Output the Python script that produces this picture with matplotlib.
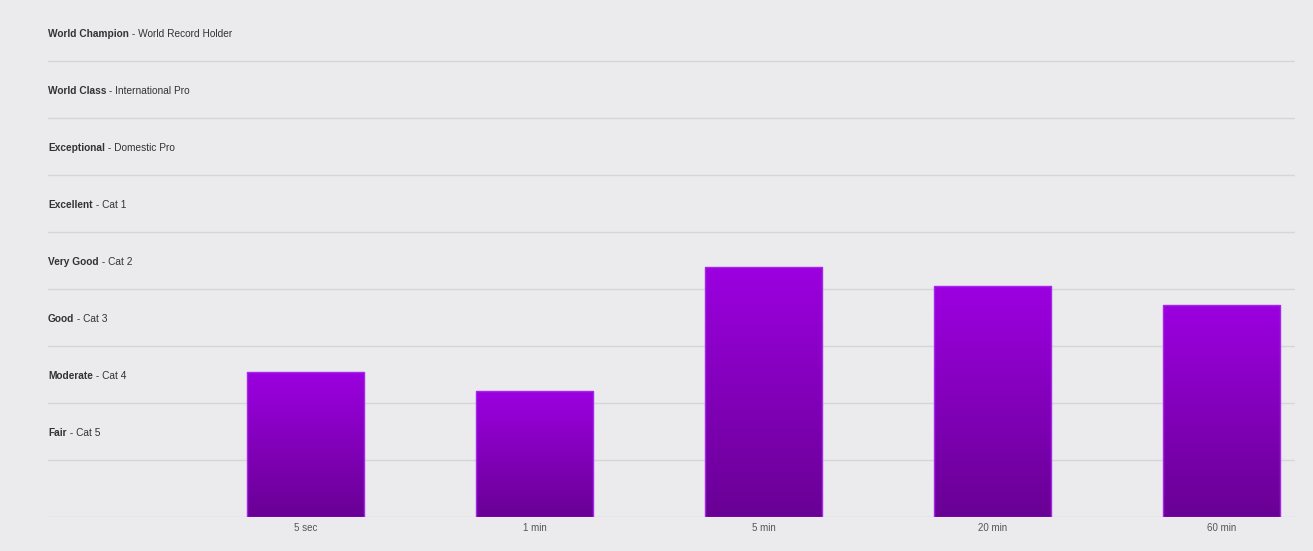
import matplotlib
matplotlib.use('Agg')
import matplotlib.pyplot as plt
import numpy as np
from matplotlib.colors import LinearSegmentedColormap

plt.rcParams['font.family'] = ['Liberation Sans', 'DejaVu Sans']

# 数据
durations = ['5 sec', '1 min', '5 min', '20 min', '60 min']
scores = [2.54, 2.21, 4.39, 4.05, 3.72]

level_names = ['Fair', 'Moderate', 'Good', 'Very Good', 'Excellent',
               'Exceptional', 'World Class', 'World Champion']
level_desc = ['Cat 5', 'Cat 4', 'Cat 3', 'Cat 2', 'Cat 1',
              'Domestic Pro', 'International Pro', 'World Record Holder']

bg = '#ebebed'
fig = plt.figure(figsize=(13.13, 5.51), dpi=100, facecolor=bg)
ax = fig.add_axes([48 / 1313, 34 / 551, (1295 - 48) / 1313, 513 / 551])
ax.set_facecolor(bg)

x = np.arange(len(durations))
ax.set_xlim(-1.1266, 4.3188)
ax.set_ylim(0, 9)

# 网格线（顶部没有）
for y in range(0, 9):
    ax.axhline(y, color='#d6d6d8', lw=1, zorder=1)

# 渐变柱状图
cmap = LinearSegmentedColormap.from_list('p', ['#690094', '#9c00e0'])
grad = np.linspace(0, 1, 256).reshape(-1, 1)
width = 117 / 229
bars = ax.bar(x, scores, width=width, color='none', edgecolor='#a626ee',
              lw=1.0, zorder=3)
for b in bars:
    x0, w, h = b.get_x(), b.get_width(), b.get_height()
    im = ax.imshow(grad, cmap=cmap, origin='lower', aspect='auto',
                   extent=[x0, x0 + w, 0, h], zorder=2)
    im.set_clip_path(b)

ax.set_xticks(x)
ax.set_xticklabels(durations, fontsize=7, color='#555555')
ax.tick_params(axis='x', length=0, pad=4)
ax.set_yticks([])
for s in ax.spines.values():
    s.set_visible(False)

# 等级标签
fig.canvas.draw()
renderer = fig.canvas.get_renderer()
for i, (name, desc) in enumerate(zip(level_names, level_desc)):
    yc = i + 1.5 - 0.03
    t = ax.text(-1.1266, yc, name, fontsize=7.3, fontweight='bold',
                color='#333333', va='center', ha='left', zorder=4)
    bb = t.get_window_extent(renderer)
    xd = ax.transData.inverted().transform((bb.x1, 0))[0]
    ax.text(xd, yc, ' - ' + desc, fontsize=7.3, color='#333333',
            va='center', ha='left', zorder=4)

fig.savefig('out.png', facecolor=bg)
